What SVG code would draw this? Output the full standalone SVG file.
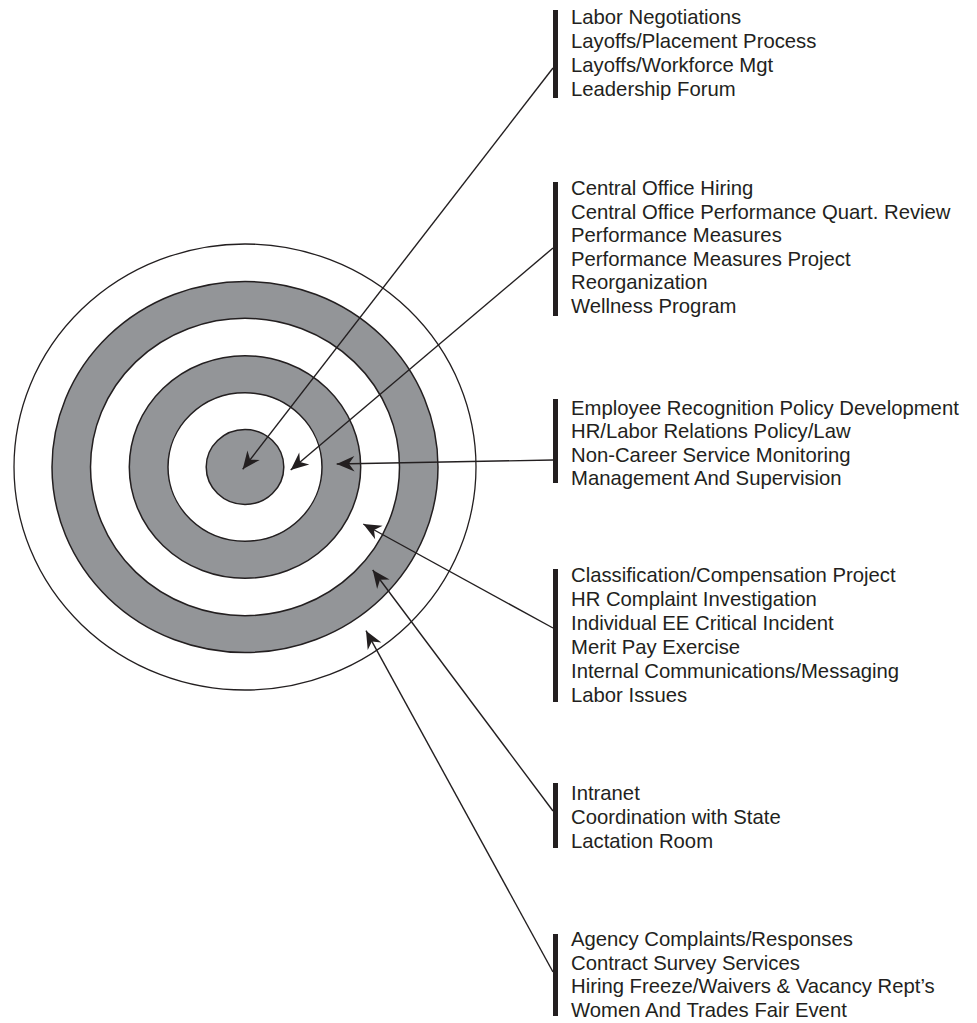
<svg xmlns="http://www.w3.org/2000/svg" width="977" height="1023" viewBox="0 0 977 1023">
<defs>
<style>
.ring{stroke:#231f20;stroke-width:1.5}
.g{fill:#939598}
.w{fill:#ffffff}
.bar{fill:#231f20}
.lbl{font-family:"Liberation Sans",Arial,sans-serif;font-size:20.3px;fill:#231f20}
.conn{stroke:#231f20;stroke-width:1.4;fill:none;marker-end:url(#ah)}
</style>
<marker id="ah" markerUnits="userSpaceOnUse" markerWidth="20" markerHeight="18" viewBox="-17 -8 18 16" refX="0" refY="0" orient="auto">
<path d="M0,0 L-16,-7 L-11,0 L-16,7 Z" fill="#231f20"/>
</marker>
</defs>
<rect width="977" height="1023" fill="#ffffff"/>
<g id="target">
<ellipse class="ring w" cx="245" cy="467" rx="231" ry="223" style="stroke-width:1.3"/>
<ellipse class="ring g" cx="245" cy="467" rx="193" ry="185.5"/>
<ellipse class="ring w" cx="245" cy="467" rx="154.5" ry="148.7"/>
<ellipse class="ring g" cx="245" cy="467" rx="115.7" ry="111.3"/>
<ellipse class="ring w" cx="245" cy="467" rx="77" ry="74.2"/>
<ellipse class="ring g" cx="245" cy="467" rx="38.8" ry="37.5"/>
</g>
<g id="connectors">
<line class="conn" x1="553" y1="68" x2="242.7" y2="469.3"/>
<line class="conn" x1="553" y1="248" x2="290.7" y2="470"/>
<line class="conn" x1="553" y1="460" x2="336.7" y2="464"/>
<line class="conn" x1="553" y1="628" x2="363.3" y2="524"/>
<line class="conn" x1="553" y1="811" x2="372.7" y2="570"/>
<line class="conn" x1="553" y1="972" x2="366" y2="630.7"/>
</g>
<g id="group1">
<rect class="bar" x="553" y="10" width="5" height="88"/>
<text class="lbl" x="571" y="24">Labor Negotiations</text>
<text class="lbl" x="571" y="48">Layoffs/Placement Process</text>
<text class="lbl" x="571" y="72">Layoffs/Workforce Mgt</text>
<text class="lbl" x="571" y="96">Leadership Forum</text>
</g>
<g id="group2">
<rect class="bar" x="553" y="182" width="5" height="134"/>
<text class="lbl" x="571" y="195">Central Office Hiring</text>
<text class="lbl" x="571" y="218.5">Central Office Performance Quart. Review</text>
<text class="lbl" x="571" y="242">Performance Measures</text>
<text class="lbl" x="571" y="265.5">Performance Measures Project</text>
<text class="lbl" x="571" y="289">Reorganization</text>
<text class="lbl" x="571" y="312.5">Wellness Program</text>
</g>
<g id="group3">
<rect class="bar" x="553" y="399" width="5" height="84"/>
<text class="lbl" x="571" y="415">Employee Recognition Policy Development</text>
<text class="lbl" x="571" y="438.3">HR/Labor Relations Policy/Law</text>
<text class="lbl" x="571" y="461.7">Non-Career Service Monitoring</text>
<text class="lbl" x="571" y="485">Management And Supervision</text>
</g>
<g id="group4">
<rect class="bar" x="553" y="569" width="5" height="133"/>
<text class="lbl" x="571" y="582">Classification/Compensation Project</text>
<text class="lbl" x="571" y="606">HR Complaint Investigation</text>
<text class="lbl" x="571" y="630">Individual EE Critical Incident</text>
<text class="lbl" x="571" y="654">Merit Pay Exercise</text>
<text class="lbl" x="571" y="678">Internal Communications/Messaging</text>
<text class="lbl" x="571" y="702">Labor Issues</text>
</g>
<g id="group5">
<rect class="bar" x="553" y="783" width="5" height="65"/>
<text class="lbl" x="571" y="800">Intranet</text>
<text class="lbl" x="571" y="824">Coordination with State</text>
<text class="lbl" x="571" y="848">Lactation Room</text>
</g>
<g id="group6">
<rect class="bar" x="553" y="934" width="5" height="82"/>
<text class="lbl" x="571" y="946">Agency Complaints/Responses</text>
<text class="lbl" x="571" y="969.5">Contract Survey Services</text>
<text class="lbl" x="571" y="993">Hiring Freeze/Waivers &amp; Vacancy Rept’s</text>
<text class="lbl" x="571" y="1016.5">Women And Trades Fair Event</text>
</g>
</svg>
